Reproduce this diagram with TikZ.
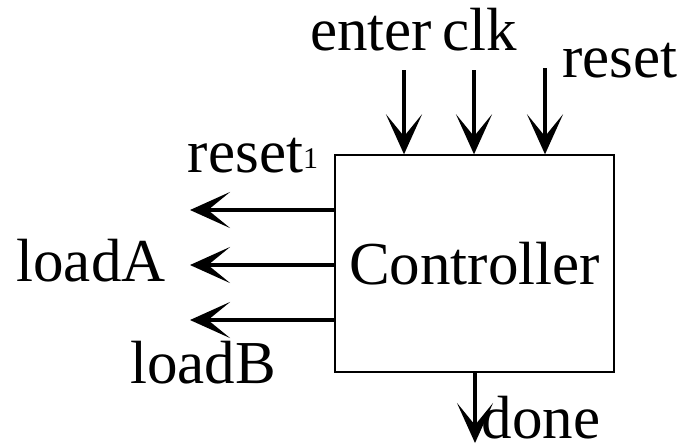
\documentclass[tikz,border=0pt]{standalone}
\usepackage{fontspec}
\setmainfont{Liberation Serif}
\usetikzlibrary{arrows.meta}

\begin{document}
\begin{tikzpicture}[x=0.5pt, y=-0.5pt, line join=miter,
    lbl/.style={font=\fontsize{30.5}{30.5}\selectfont, inner sep=0pt, anchor=base},
    sig/.style={line width=2.2pt, -{Stealth[length=20pt, width=18pt, inset=11pt]}},
    block/.style={draw, line width=0.7pt, minimum width=139.5pt, minimum height=108.5pt,
                  inner sep=0pt, font=\fontsize{30.5}{30.5}\selectfont}]

    % units are pixels of the 699x447 frame, y grows downwards
    \useasboundingbox (0, 0) rectangle (699, 447);

    % Controller block: (335,155) -- (614,372)
    \node[block] (ctrl) at (474.5, 263.5) {Controller};

    % Free ends of the signals
    \coordinate (enterin) at (404, 70);
    \coordinate (clkin)   at (474, 70);
    \coordinate (resetin) at (545, 68);
    \coordinate (rstout)  at (190, 210);
    \coordinate (ldaout)  at (190, 265);
    \coordinate (ldbout)  at (190, 320);
    \coordinate (doneout) at (475, 443);

    % Inputs from the top
    \draw[sig] (enterin) -- (enterin |- ctrl.north);
    \draw[sig] (clkin)   -- (clkin |- ctrl.north);
    \draw[sig] (resetin) -- (resetin |- ctrl.north);

    % Outputs to the left and below
    \draw[sig] (rstout -| ctrl.west)  -- (rstout);
    \draw[sig] (ldaout -| ctrl.west)  -- (ldaout);
    \draw[sig] (ldbout -| ctrl.west)  -- (ldbout);
    \draw[sig] (doneout |- ctrl.south) -- (doneout);

    % Signal names
    \node[lbl] (lblenter) at (371, 50)  {enter};
    \node[lbl] (lblclk)   at (480, 50)  {clk};
    \node[lbl] (lblreset) at (620, 77)  {reset};
    \node[lbl] (lblrst)   at (253, 172) {reset\raisebox{2pt}{\fontsize{15}{15}\selectfont 1}};
    \node[lbl] (lblldA)   at (91, 281)  {loadA};
    \node[lbl] (lblldB)   at (203, 383) {loadB};
    \node[lbl] (lbldone)  at (541, 438) {done};

\end{tikzpicture}
\end{document}
